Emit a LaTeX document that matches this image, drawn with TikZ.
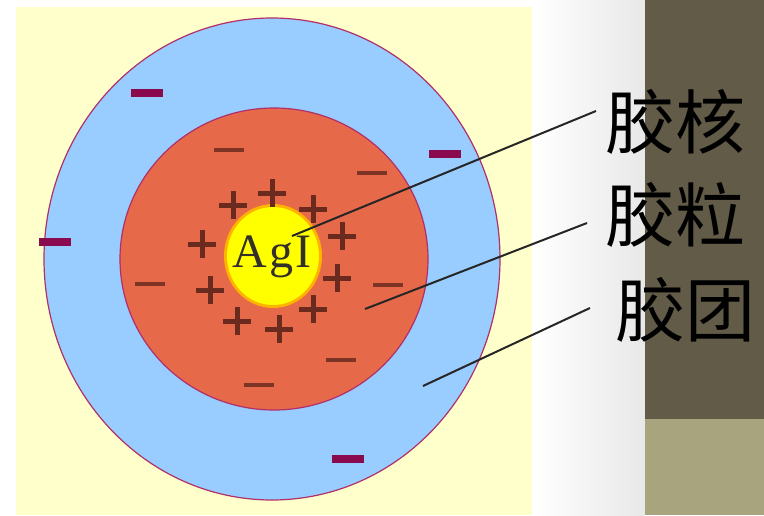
\documentclass[tikz,border=0pt]{standalone}
\usepackage{fontspec}
\setmainfont{Liberation Serif}
\newfontfamily\cjk{Noto Sans CJK SC}
\usetikzlibrary{calc}
\definecolor{paleBg}{HTML}{FFFFCC}
\definecolor{shellBlue}{HTML}{99CCFF}
\definecolor{coreRed}{HTML}{E6694A}
\definecolor{kernYellow}{HTML}{FFFF00}
\definecolor{rimColor}{HTML}{B0306A}
\definecolor{ionBrown}{HTML}{6A2A1E}
\definecolor{ionMaroon}{HTML}{8A0A4E}
\definecolor{panelDark}{HTML}{625B48}
\definecolor{panelTan}{HTML}{A8A47E}

\tikzset{
  plusion/.style={ionBrown, line width=5pt},
  minusion/.style={ionBrown!85!coreRed, line width=4.5pt},
  counterion/.style={ionMaroon, line width=7.5pt},
  leader/.style={draw=black!85, line width=2pt},
  term/.style={font=\cjk\fontsize{70}{70}\selectfont, inner sep=0pt, anchor=west}
}

\begin{document}
\begin{tikzpicture}[x=1pt,y=-1pt]
    \useasboundingbox (0,0) rectangle (764,515);
    \fill[white] (0,0) rectangle (764,515);
    \shade[left color=white, right color=black!9] (532,0) rectangle (645,515);
    \fill[panelDark] (645,0) rectangle (764,419);
    \fill[panelTan] (645,419) rectangle (764,515);
    \fill[paleBg] (16,7) rectangle (532,515);

    % micelle, particle, core
    \filldraw[fill=shellBlue, draw=rimColor, line width=1.2pt] (272,259) ellipse [x radius=228, y radius=241];
    \filldraw[fill=coreRed, draw=rimColor, line width=1.2pt] (274,259) ellipse [x radius=154, y radius=151];
    \fill[orange!60!yellow] (273,256) ellipse [x radius=49, y radius=52];
    \fill[kernYellow] (273,256) ellipse [x radius=46, y radius=49];
    \node (agi) at (272,257) {\fontsize{48}{48}\selectfont\color{black!85!olive}A\kern3pt g\kern2pt I};

    % adsorbed ions
    \foreach \px/\py in {233/205, 272/193, 313/209, 342/236, 202/244, 337/278, 210/290, 313/309, 237/321, 279/329}
        \draw[plusion] (\px-14,\py) -- (\px+14,\py) (\px,\py-14) -- (\px,\py+14);
    \foreach \px/\py in {229/150, 372/173, 150/284, 388/285, 341/360, 259/385}
        \draw[minusion] (\px-15,\py) -- (\px+15,\py);

    % diffuse layer
    \foreach \px/\py in {147/93, 445/154, 55/242, 348/459}
        \draw[counterion] (\px-16,\py) -- (\px+16,\py);

    % labels
    \node[term] (lblcore) at (605,122) {胶核};
    \node[term] (lblparticle) at (605,215) {胶粒};
    \node[term] (lblmicelle) at (615,310) {胶团};

    \coordinate (pcore) at (292,236);
    \coordinate (pparticle) at (365,309);
    \coordinate (pmicelle) at (423,386);
    \draw[leader] (pcore) -- ([shift={(-9,-11)}]lblcore.west);
    \draw[leader] (pparticle) -- ([shift={(-18,8)}]lblparticle.west);
    \draw[leader] (pmicelle) -- ([shift={(-25,-2)}]lblmicelle.west);
\end{tikzpicture}
\end{document}
